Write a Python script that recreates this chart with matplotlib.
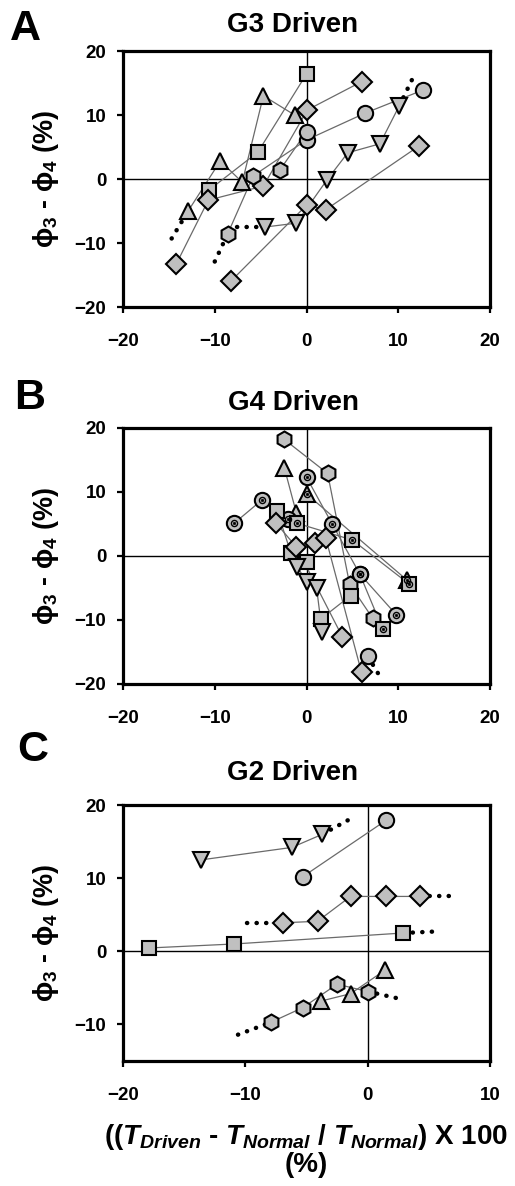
import matplotlib
matplotlib.use('Agg')
import matplotlib.pyplot as plt

# ---------------- data ----------------
# Panel A (G3 driven): each series = x, y, per-point marker codes
a1_x = [-12.9, -9.4, -7.0, -4.7, -1.3]; a1_y = [-5.0, 2.8, -0.5, 13.0, 10.0]; a1_m = ['^'] * 5
a2_x = [-10.6, -5.3, 0.0];              a2_y = [-1.7, 4.2, 16.4];              a2_m = ['s'] * 3
a3_x = [-14.2, -10.7, -4.7, 0.1, 6.0];  a3_y = [-13.3, -3.3, -1.1, 10.8, 15.2]; a3_m = ['D'] * 5
a4_x = [-8.2, 0.0, 2.1, 12.3];          a4_y = [-15.9, -4.1, -4.8, 5.2];       a4_m = ['D'] * 4
a5_x = [-8.6, -5.8, 0.0, 6.4, 12.7];    a5_y = [-8.6, 0.5, 6.1, 10.3, 13.9];   a5_m = ['h', 'h', 'o', 'o', 'o']
a6_x = [-2.9, 0.0];                     a6_y = [1.4, 7.4];                     a6_m = ['h', 'o']
a7_x = [-4.5, -1.1, 2.2, 4.5, 8.0, 10.1]; a7_y = [-7.5, -6.9, -0.2, 4.1, 5.5, 11.4]; a7_m = ['v'] * 6
a_dot_x = [[-14.7, -12.9], [-10.0, -8.6], [-7.6, -4.5], [10.1, 11.8]]
a_dot_y = [[-9.3, -5.0], [-12.9, -8.6], [-7.5, -7.5], [11.4, 16.4]]

# Panel B (G4 driven)
b1_x = [-2.5, 2.3, 4.7, 7.2];    b1_y = [18.3, 12.9, -4.4, -9.7];  b1_m = ['h'] * 4
b2_x = [-2.4, -1.1];             b2_y = [13.7, 6.7];               b2_m = ['^'] * 2
b3_x = [0.0, 10.9];              b3_y = [9.7, -3.7];               b3_m = ['^.'] * 2
b4_x = [-7.9, -4.9, -2.0];       b4_y = [5.1, 8.7, 5.8];           b4_m = ['o.'] * 3
b5_x = [0.0, 2.8, 5.8, 9.8];     b5_y = [12.3, 5.0, -2.8, -9.2];   b5_m = ['o.'] * 4
b6_x = [-1.0, 5.0, 11.2];        b6_y = [5.1, 2.5, -4.4];          b6_m = ['s.'] * 3
b7_x = [5.8, 8.3];               b7_y = [-2.8, -11.4];             b7_m = ['o.', 's.']
b8_x = [-3.2, -1.7, 0.1];        b8_y = [7.0, 0.5, -0.9];          b8_m = ['s'] * 3
b9_x = [1.6, 4.8];               b9_y = [-9.8, -6.2];              b9_m = ['s'] * 2
b10_x = [-3.3, -1.1, 3.9];       b10_y = [5.1, 1.4, -12.6];        b10_m = ['D'] * 3
b11_x = [0.9, 2.1, 6.0];         b11_y = [2.0, 2.8, -18.2];        b11_m = ['D'] * 3
b12_x = [-1.0, 0.0, 1.1, 1.7];   b12_y = [-1.7, -4.0, -5.0, -11.8]; b12_m = ['v'] * 4
b13_x = [6.7];                   b13_y = [-15.7];                  b13_m = ['o']
b_dot_x = [[6.7, 8.2]]
b_dot_y = [[-15.7, -19.3]]

# Panel C (G2 driven)
c1_x = [-13.6, -6.2, -3.7];           c1_y = [12.5, 14.2, 16.0];        c1_m = ['v'] * 3
c2_x = [-5.3, 1.5];                   c2_y = [10.2, 17.9];              c2_m = ['o'] * 2
c3_x = [-6.9, -4.1, -1.4, 1.5, 4.3];  c3_y = [3.9, 4.1, 7.5, 7.5, 7.5]; c3_m = ['D'] * 5
c4_x = [-17.9, -10.9, 2.9];           c4_y = [0.45, 1.0, 2.5];          c4_m = ['s'] * 3
c5_x = [-7.9, -5.3, -2.5, 0.0];       c5_y = [-9.7, -7.7, -4.5, -5.5];  c5_m = ['h'] * 4
c6_x = [-3.8, -1.4, 1.4];             c6_y = [-6.8, -5.8, -2.6];        c6_m = ['^'] * 3
c_dot_x = [[-3.7, -1.2], [-9.9, -6.9], [4.3, 7.1], [2.9, 5.5], [-10.6, -7.9], [0.0, 2.9]]
c_dot_y = [[16.0, 18.3], [3.9, 3.9], [7.5, 7.5], [2.5, 2.7], [-11.4, -9.7], [-5.5, -6.6]]

titles = ['G3 Driven', 'G4 Driven', 'G2 Driven']
letters = ['A', 'B', 'C']
xticks_ab = [-20, -10, 0, 10, 20]
xticks_c = [-20, -10, 0, 10]
yticks_ab = [-20, -10, 0, 10, 20]
yticks_c = [-10, 0, 10, 20]

# ---------------- style ----------------
plt.rcParams['font.family'] = ['Liberation Sans', 'DejaVu Sans']
plt.rcParams['font.weight'] = 'bold'
plt.rcParams['mathtext.fontset'] = 'custom'
plt.rcParams['mathtext.rm'] = 'Liberation Sans:bold'
plt.rcParams['mathtext.it'] = 'Liberation Sans:bold:italic'
plt.rcParams['mathtext.bf'] = 'Liberation Sans:bold'

FILL = '#c0c0c0'
SIZES = {'o': 11, 's': 10.5, 'D': 10, '^': 11, 'v': 11, 'h': 11.5}

W, H = 515, 1186
fig = plt.figure(figsize=(W / 100, H / 100), dpi=100)


def ax_rect(top_px, bot_px, left_px=123, right_px=490):
    return [left_px / W, 1 - bot_px / H, (right_px - left_px) / W, (bot_px - top_px) / H]


def draw_series(ax, xs, ys, ms):
    ax.plot(xs, ys, '-', color='#6a6a6a', lw=0.9, zorder=2)
    for x, y, m in zip(xs, ys, ms):
        base = m[0]
        ax.plot([x], [y], marker=base, ms=SIZES[base], mfc=FILL, mec='black',
                mew=1.5, ls='none', zorder=4)
        if m.endswith('.'):
            ax.plot([x], [y], marker='o', ms=4.4, mfc='none', mec='black', mew=1.0,
                    ls='none', zorder=5)
            ax.plot([x], [y], marker='o', ms=1.7, mfc='black', mec='black', mew=0.5,
                    ls='none', zorder=5)


def draw_dots(ax, dxs, dys):
    for xs, ys in zip(dxs, dys):
        ax.plot(xs, ys, color='black', lw=3.2, ls=(0, (0.05, 2.1)),
                dash_capstyle='round', zorder=3)


def style_axes(ax, xlim, ylim, xt, yt):
    ax.set_xlim(*xlim)
    ax.set_ylim(*ylim)
    ax.set_xticks(xt)
    ax.set_yticks(yt)
    ax.axhline(0, color='black', lw=1.0, zorder=1)
    ax.axvline(0, color='black', lw=1.0, zorder=1)
    for s in ax.spines.values():
        s.set_linewidth(2.3)
    ax.tick_params(direction='out', length=4, width=1.6, labelsize=13.5)
    ax.tick_params(axis='x', pad=15)
    ax.tick_params(axis='y', pad=8)
    for lab in ax.get_xticklabels() + ax.get_yticklabels():
        lab.set_fontweight('bold')
    ax.set_ylabel('ϕ$_{3}$ - ϕ$_{4}$ (%)', fontsize=19.5, fontweight='bold')


panels = [
    (ax_rect(51, 307), [(a1_x, a1_y, a1_m), (a2_x, a2_y, a2_m), (a3_x, a3_y, a3_m),
                        (a4_x, a4_y, a4_m), (a5_x, a5_y, a5_m), (a6_x, a6_y, a6_m),
                        (a7_x, a7_y, a7_m)], (a_dot_x, a_dot_y), (-20, 20), (-20, 20),
     xticks_ab, yticks_ab),
    (ax_rect(428, 684), [(b1_x, b1_y, b1_m), (b2_x, b2_y, b2_m), (b3_x, b3_y, b3_m),
                         (b4_x, b4_y, b4_m), (b5_x, b5_y, b5_m), (b6_x, b6_y, b6_m),
                         (b7_x, b7_y, b7_m), (b8_x, b8_y, b8_m), (b9_x, b9_y, b9_m),
                         (b10_x, b10_y, b10_m), (b11_x, b11_y, b11_m),
                         (b12_x, b12_y, b12_m), (b13_x, b13_y, b13_m)],
     (b_dot_x, b_dot_y), (-20, 20), (-20, 20), xticks_ab, yticks_ab),
    (ax_rect(805, 1061), [(c1_x, c1_y, c1_m), (c2_x, c2_y, c2_m), (c3_x, c3_y, c3_m),
                          (c4_x, c4_y, c4_m), (c5_x, c5_y, c5_m), (c6_x, c6_y, c6_m)],
     (c_dot_x, c_dot_y), (-20, 10), (-15, 20), xticks_c, yticks_c),
]

title_y_px = [25, 403, 773]
letter_y_px = [29, 398, 750]
letter_x_px = [10, 14, 17]

for i, (rect, series, dots, xl, yl, xt, yt) in enumerate(panels):
    ax = fig.add_axes(rect)
    for xs, ys, ms in series:
        draw_series(ax, xs, ys, ms)
    draw_dots(ax, *dots)
    style_axes(ax, xl, yl, xt, yt)
    ax.yaxis.set_label_coords(-0.17, 0.5)
    fig.text(293 / W, 1 - title_y_px[i] / H, titles[i], ha='center', va='center',
             fontsize=20, fontweight='bold')
    fig.text(letter_x_px[i] / W, 1 - letter_y_px[i] / H, letters[i], ha='left', va='center',
             fontsize=31, fontweight='bold')

xlabel = ('(($\\mathit{T_{Driven}}$ - $\\mathit{T_{Normal}}$ / $\\mathit{T_{Normal}}$) X 100\n(%)')
fig.text(306 / W, 1 - 1150 / H, xlabel, ha='center', va='center', fontsize=20,
         fontweight='bold', multialignment='center', linespacing=0.95)

fig.savefig('out.png', dpi=100)
